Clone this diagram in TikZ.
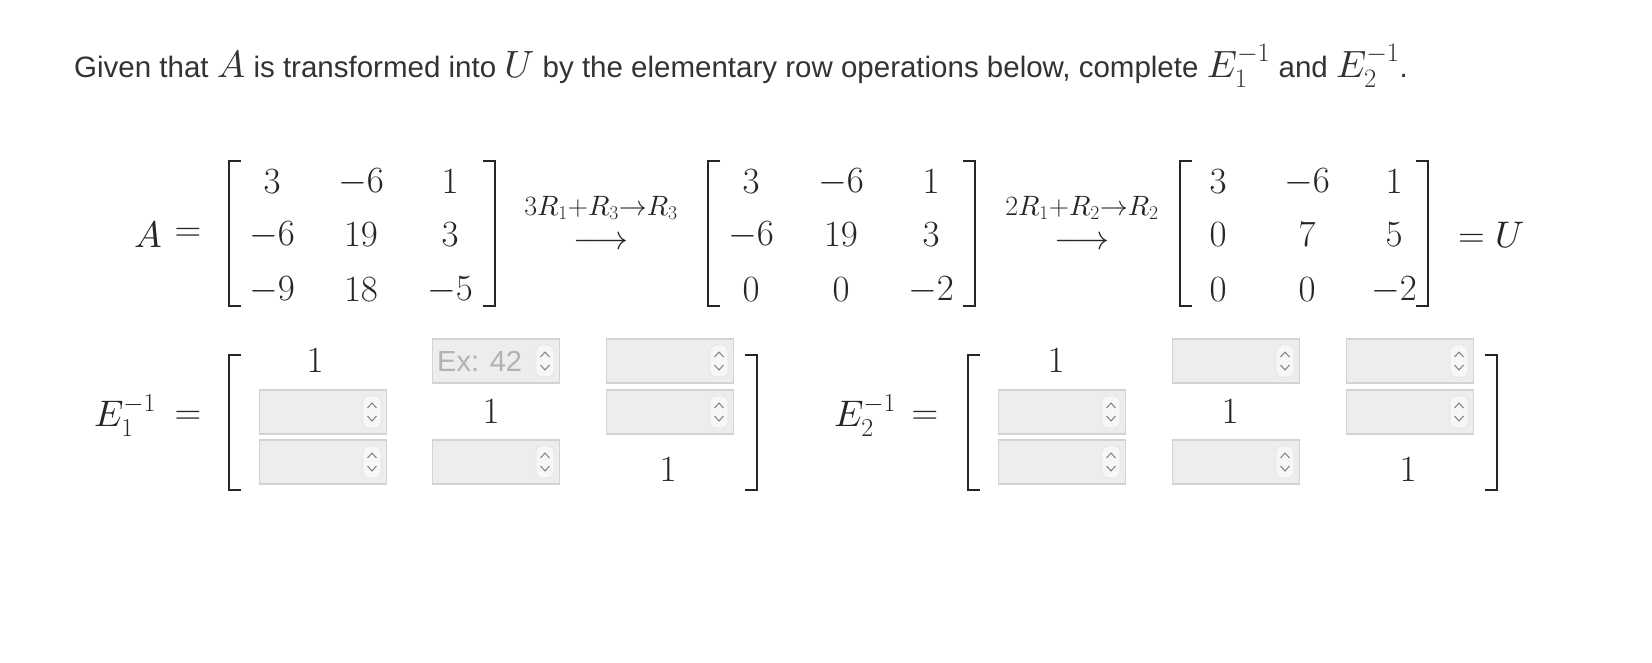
\documentclass[tikz,border=0pt]{standalone}
\usepackage{fix-cm}
\usepackage{fontspec}
\setmainfont{Liberation Sans}
\DeclareFontShape{OML}{cmm}{m}{it}{<->cmmi10}{}
\DeclareFontShape{OMS}{cmsy}{m}{n}{<->cmsy10}{}
\DeclareFontShape{OMX}{cmex}{m}{n}{<->cmex10}{}
\newcommand{\bm}[1]{{\fontsize{38}{40}\selectfont$#1$}}
\begin{document}
\begin{tikzpicture}[x=1pt,y=-1pt,
 mth/.style={font=\fontsize{37}{40}\selectfont,inner sep=0pt,text=black!85},
 lbl/.style={font=\fontsize{28}{30}\selectfont,inner sep=0pt,text=black!85},
 brk/.style={line width=2.6pt,draw=black!85},
 inbox/.style={draw=cyan!8!gray!40,fill=black!7,line width=1.5pt,minimum width=127pt,minimum height=44pt,inner sep=0pt}]
\useasboundingbox (0,0) rectangle (1652,662);
\node[anchor=base west,inner sep=0pt,text=black!80,font=\fontsize{29.5}{32}\selectfont] (title) at (74,77)
 {Given that \bm{A} is transformed into \bm{U} by the elementary row operations below, complete \bm{E_1^{-1}} and \bm{E_2^{-1}}.};
\newcommand{\mbr}[4]{%
 \draw[brk] (#1+12,#3)--(#1,#3)--(#1,#4)--(#1+12,#4);
 \draw[brk] (#2-12,#3)--(#2,#3)--(#2,#4)--(#2-12,#4);}
\node[mth] (A) at (148,235) {$A$};
\node[mth] (eq1) at (188,235) {$=$};
\mbr{229}{495}{161}{306}
\node[mth] (a11) at (272,182) {$3$};\node[mth] (a12) at (361,182) {$-6$};\node[mth] (a13) at (450,182) {$1$};
\node[mth] (a21) at (272,235) {$-6$};\node[mth] (a22) at (361,235) {$19$};\node[mth] (a23) at (450,235) {$3$};
\node[mth] (a31) at (272,290) {$-9$};\node[mth] (a32) at (361,290) {$18$};\node[mth] (a33) at (450,290) {$-5$};
\node[lbl] (op1) at (601,208) {$3R_1{+}R_3{\to}R_3$};
\node[mth,font=\fontsize{34}{34}\selectfont] (ar1) at (601,243) {$\longrightarrow$};
\mbr{708}{975}{161}{306}
\node[mth] (b11) at (751,182) {$3$};\node[mth] (b12) at (841,182) {$-6$};\node[mth] (b13) at (931,182) {$1$};
\node[mth] (b21) at (751,235) {$-6$};\node[mth] (b22) at (841,235) {$19$};\node[mth] (b23) at (931,235) {$3$};
\node[mth] (b31) at (751,290) {$0$};\node[mth] (b32) at (841,290) {$0$};\node[mth] (b33) at (931,290) {$-2$};
\node[lbl] (op2) at (1082,208) {$2R_1{+}R_2{\to}R_2$};
\node[mth,font=\fontsize{34}{34}\selectfont] (ar2) at (1082,243) {$\longrightarrow$};
\mbr{1180}{1428}{161}{306}
\node[mth] (c11) at (1218,182) {$3$};\node[mth] (c12) at (1307,182) {$-6$};\node[mth] (c13) at (1394,182) {$1$};
\node[mth] (c21) at (1218,235) {$0$};\node[mth] (c22) at (1307,235) {$7$};\node[mth] (c23) at (1394,235) {$5$};
\node[mth] (c31) at (1218,290) {$0$};\node[mth] (c32) at (1307,290) {$0$};\node[mth] (c33) at (1394,290) {$-2$};
\node[mth,anchor=west] (eqU) at (1458,235) {$=U$};
\newcommand{\inp}[3]{%
 \node[inbox] (#1) at (#2,#3) {};
 \draw[black!10,fill=black!3,rounded corners=6pt,line width=0.8pt] (#2+40,#3-16) rectangle (#2+58,#3+16);
 \draw[black!50,line width=1pt] (#2+44.5,#3-4)--(#2+49,#3-9)--(#2+53.5,#3-4);
 \draw[black!50,line width=1pt] (#2+44.5,#3+4)--(#2+49,#3+9)--(#2+53.5,#3+4);}
\node[mth] (E1) at (125,416) {$E_1^{-1}$};
\node[mth] (eq2) at (188,418) {$=$};
\mbr{229}{757}{355}{490}
\node[mth] (d11) at (315,361) {$1$};
\node[mth] (d22) at (491,412) {$1$};
\node[mth] (d33) at (668,470) {$1$};
\inp{i21}{323}{412}\inp{i31}{323}{462}
\inp{i12}{496}{361}\inp{i32}{496}{462}
\inp{i13}{670}{361}\inp{i23}{670}{412}
\node[anchor=west,inner sep=0pt,text=black!30,font=\fontsize{29}{32}\selectfont] (ph) at (437,361) {Ex: 42};
\node[mth] (E2) at (865,416) {$E_2^{-1}$};
\node[mth] (eq3) at (925,418) {$=$};
\mbr{968}{1497}{355}{490}
\node[mth] (f11) at (1056,361) {$1$};
\node[mth] (f22) at (1230,412) {$1$};
\node[mth] (f33) at (1408,470) {$1$};
\inp{j21}{1062}{412}\inp{j31}{1062}{462}
\inp{j12}{1236}{361}\inp{j32}{1236}{462}
\inp{j13}{1410}{361}\inp{j23}{1410}{412}
\end{tikzpicture}
\end{document}
